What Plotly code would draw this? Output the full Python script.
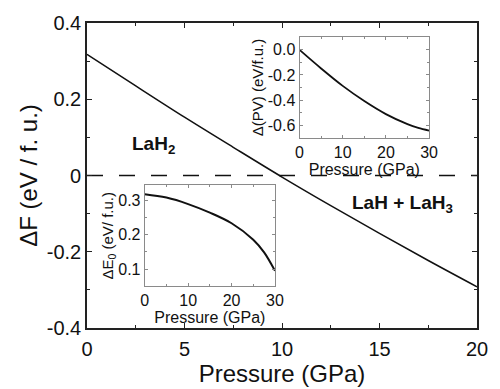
import plotly.graph_objects as go

# ---- data ----
pressure_main = [0, 2.5, 5, 7.5, 10, 12.5, 15, 17.5, 20]
delta_F = [0.318, 0.235, 0.153, 0.074, -0.004, -0.079, -0.152, -0.223, -0.292]

pressure_inset = [0, 5, 10, 15, 20, 25, 27.5, 30]
delta_PV = [0.0, -0.148, -0.287, -0.408, -0.512, -0.592, -0.622, -0.643]
delta_E0 = [0.319, 0.309, 0.29, 0.265, 0.234, 0.186, 0.149, 0.095]

main_yticks = [-0.4, -0.2, 0, 0.2, 0.4]
main_yticktext = ["-0.4", "-0.2", "0", "0.2", "0.4"]
pv_yticks = [-0.6, -0.4, -0.2, 0.0]
pv_yticktext = ["-0.6", "-0.4", "-0.2", "0.0"]
e0_yticks = [0.1, 0.2, 0.3]
e0_yticktext = ["0.1", "0.2", "0.3"]

FONT = "Liberation Sans, Arial, Helvetica, sans-serif"
INK = "#111111"

fig = go.Figure()

# zero reference line
fig.add_trace(go.Scatter(x=[0, 20], y=[0, 0], mode="lines",
                         line=dict(color=INK, width=1.6, dash="16px,16px"),
                         xaxis="x", yaxis="y", hoverinfo="skip"))
# main curve
fig.add_trace(go.Scatter(x=pressure_main, y=delta_F, mode="lines",
                         line=dict(color=INK, width=1.5, shape="spline"),
                         xaxis="x", yaxis="y"))
# inset 1: delta(PV)
fig.add_trace(go.Scatter(x=pressure_inset, y=delta_PV, mode="lines",
                         line=dict(color=INK, width=1.8, shape="spline"),
                         xaxis="x2", yaxis="y2"))
# inset 2: delta E0
fig.add_trace(go.Scatter(x=pressure_inset, y=delta_E0, mode="lines",
                         line=dict(color=INK, width=2, shape="spline"),
                         xaxis="x3", yaxis="y3"))

main_ax = dict(showline=True, linecolor="#222222", linewidth=1.6, mirror="ticks",
               ticks="inside", ticklen=5, tickwidth=1.2, tickcolor="#222222",
               showgrid=False, zeroline=False,
               tickfont=dict(family=FONT, size=20, color=INK))
inset_ax = dict(showline=True, linecolor="#8a8a8a", linewidth=1, mirror="ticks",
                ticks="inside", ticklen=3, tickwidth=1, tickcolor="#8a8a8a",
                showgrid=False, zeroline=False,
                tickfont=dict(family=FONT, size=16, color=INK))

fig.update_layout(
    width=500, height=389,
    margin=dict(l=87, r=21, t=15, b=56),
    paper_bgcolor="white", plot_bgcolor="white",
    showlegend=False,
    font=dict(family=FONT, color=INK),
    xaxis=dict(**main_ax, domain=[0, 1], range=[0, 20], tickvals=[0, 5, 10, 15, 20],
               minor=dict(ticks="inside", ticklen=3, dtick=2.5, tickcolor="#222222"),
               ticklabelstandoff=2,
               title=dict(text="Pressure (GPa)", font=dict(family=FONT, size=24, color=INK),
                          standoff=0)),
    yaxis=dict(**main_ax, domain=[0, 1], range=[-0.4, 0.4], tickvals=main_yticks,
               ticktext=main_yticktext,
               minor=dict(ticks="inside", ticklen=3, dtick=0.1, tickcolor="#222222"),
               title=dict(text="ΔF (eV / f. u.)", font=dict(family=FONT, size=24, color=INK),
                          standoff=2)),
    xaxis2=dict(**inset_ax, domain=[0.545, 0.877], anchor="y2", range=[0, 30],
                tickvals=[0, 10, 20, 30],
                minor=dict(ticks="inside", ticklen=2, dtick=5, tickcolor="#8a8a8a"),
                title=dict(text="Pressure (GPa)", font=dict(family=FONT, size=16, color=INK),
                           standoff=0)),
    yaxis2=dict(**inset_ax, domain=[0.624, 0.953], anchor="x2", range=[-0.7, 0.1],
                tickvals=pv_yticks, ticktext=pv_yticktext,
                minor=dict(ticks="inside", ticklen=2, dtick=0.1, tickcolor="#8a8a8a"),
                title=dict(text="Δ(PV) (eV/f.u.)", font=dict(family=FONT, size=15, color=INK),
                           standoff=0)),
    xaxis3=dict(**inset_ax, domain=[0.148, 0.482], anchor="y3", range=[0, 30],
                tickvals=[0, 10, 20, 30],
                minor=dict(ticks="inside", ticklen=2, dtick=5, tickcolor="#8a8a8a"),
                title=dict(text="Pressure (GPa)", font=dict(family=FONT, size=16, color=INK),
                           standoff=0)),
    yaxis3=dict(**inset_ax, domain=[0.137, 0.468], anchor="x3", range=[0.05, 0.345],
                tickvals=e0_yticks, ticktext=e0_yticktext,
                minor=dict(ticks="inside", ticklen=2, dtick=0.05, tickcolor="#8a8a8a"),
                title=dict(text="ΔE<sub>0</sub> (eV/ f.u.)", font=dict(family=FONT, size=15, color=INK),
                           standoff=0)),
)

fig.add_annotation(x=2.2, y=0.08, xref="x", yref="y", text="<b>LaH<sub>2</sub></b>",
                   showarrow=False, xanchor="left", yanchor="middle",
                   font=dict(family=FONT, size=19, color=INK))
fig.add_annotation(x=13.5, y=-0.075, xref="x", yref="y", text="<b>LaH + LaH<sub>3</sub></b>",
                   showarrow=False, xanchor="left", yanchor="middle",
                   font=dict(family=FONT, size=19, color=INK))

fig.write_html("out.html")
